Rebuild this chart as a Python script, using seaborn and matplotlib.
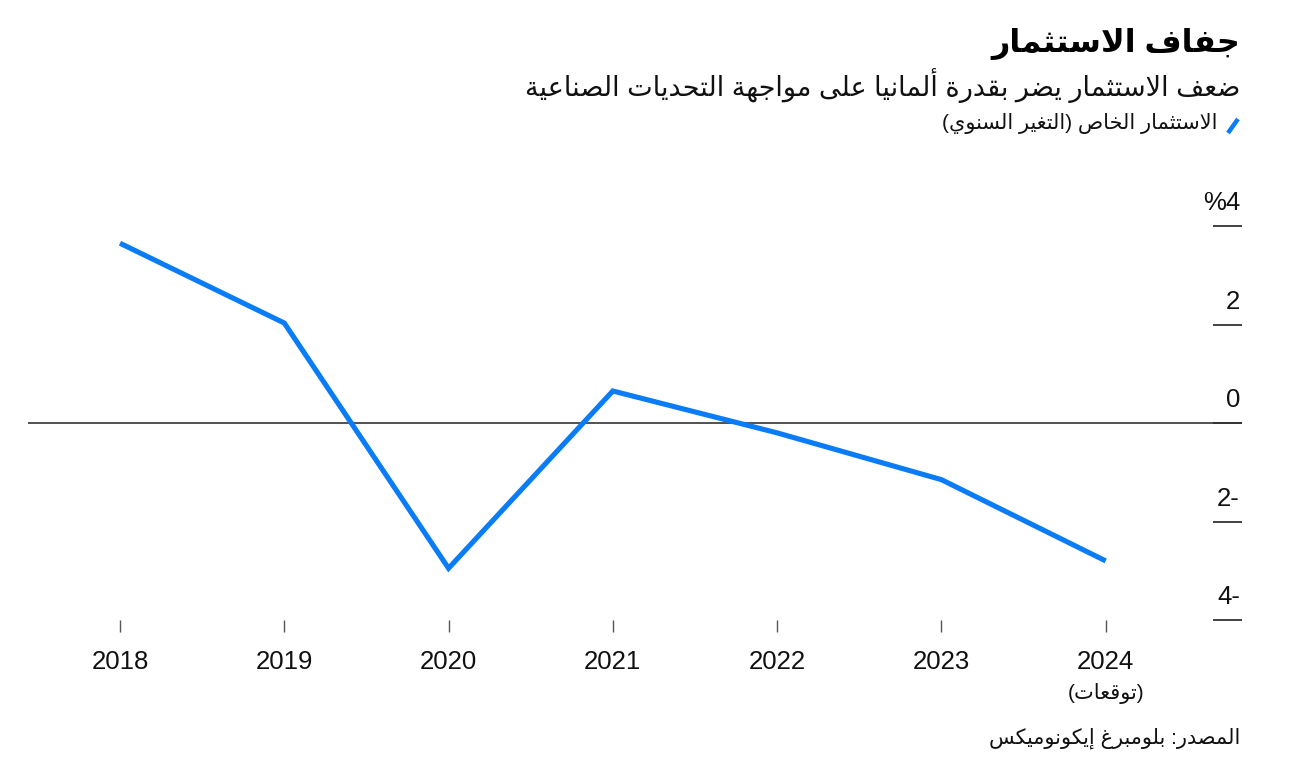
import matplotlib
matplotlib.use("Agg")
import matplotlib.pyplot as plt
import matplotlib.transforms as mtransforms
from matplotlib.lines import Line2D
import seaborn as sns
import pandas as pd

# ---------------- data ----------------
years = [2018, 2019, 2020, 2021, 2022, 2023, 2024]
private_investment = [3.65, 2.03, -2.95, 0.65, -0.2, -1.15, -2.8]
year_labels = ["2018", "2019", "2020", "2021", "2022", "2023", "2024"]
y_ticks = [-4, -2, 0, 2, 4]
y_tick_labels = ["4-", "2-", "0", "2", "%4"]

title = "جفاف الاستثمار"
subtitle = "ضعف الاستثمار يضر بقدرة ألمانيا على مواجهة التحديات الصناعية"
legend_label = "الاستثمار الخاص (التغير السنوي)"
forecast_note = "(توقعات)"
source = "المصدر: بلومبرغ إيكونوميكس"

# ---------------- minimal Arabic shaping (presentation forms + RTL) ----------------
_LETTERS = [('ء', 0xFE80, 1), ('آ', 0xFE81, 2), ('أ', 0xFE83, 2), ('ؤ', 0xFE85, 2),
            ('إ', 0xFE87, 2), ('ئ', 0xFE89, 4), ('ا', 0xFE8D, 2), ('ب', 0xFE8F, 4),
            ('ة', 0xFE93, 2), ('ت', 0xFE95, 4), ('ث', 0xFE99, 4), ('ج', 0xFE9D, 4),
            ('ح', 0xFEA1, 4), ('خ', 0xFEA5, 4), ('د', 0xFEA9, 2), ('ذ', 0xFEAB, 2),
            ('ر', 0xFEAD, 2), ('ز', 0xFEAF, 2), ('س', 0xFEB1, 4), ('ش', 0xFEB5, 4),
            ('ص', 0xFEB9, 4), ('ض', 0xFEBD, 4), ('ط', 0xFEC1, 4), ('ظ', 0xFEC5, 4),
            ('ع', 0xFEC9, 4), ('غ', 0xFECD, 4), ('ف', 0xFED1, 4), ('ق', 0xFED5, 4),
            ('ك', 0xFED9, 4), ('ل', 0xFEDD, 4), ('م', 0xFEE1, 4), ('ن', 0xFEE5, 4),
            ('ه', 0xFEE9, 4), ('و', 0xFEED, 2), ('ى', 0xFEEF, 2), ('ي', 0xFEF1, 4)]
_TABLE = {c: (b, n) for c, b, n in _LETTERS}
_LAMALEF = {'آ': 0xFEF5, 'أ': 0xFEF7, 'إ': 0xFEF9, 'ا': 0xFEFB}
_MIRROR = {'(': ')', ')': '(', '[': ']', ']': '['}


def ar(text):
    out = []
    i = 0
    n = len(text)
    while i < n:
        c = text[i]
        if c not in _TABLE:
            out.append(c)
            i += 1
            continue
        prev_join = i > 0 and text[i - 1] in _TABLE and _TABLE[text[i - 1]][1] == 4
        if c == 'ل' and i + 1 < n and text[i + 1] in _LAMALEF:
            out.append(chr(_LAMALEF[text[i + 1]] + (1 if prev_join else 0)))
            i += 2
            continue
        base, forms = _TABLE[c]
        next_join = forms == 4 and i + 1 < n and text[i + 1] in _TABLE and _TABLE[text[i + 1]][1] >= 2
        if forms == 1:
            code = base
        elif prev_join and next_join:
            code = base + 3
        elif prev_join:
            code = base + 1
        elif next_join:
            code = base + 2
        else:
            code = base
        out.append(chr(code))
        i += 1
    return "".join(_MIRROR.get(ch, ch) for ch in reversed(out))


# ---------------- figure ----------------
sns.set_style("white")
plt.rcParams["font.family"] = ["Liberation Sans", "DejaVu Sans"]

W, H = 1296, 770
fig = plt.figure(figsize=(W / 100, H / 100), dpi=100)
fig.patch.set_facecolor("white")

left_px, right_px, top_px, bottom_px = 28, 1242, 226, 620
ax = fig.add_axes([left_px / W, 1 - bottom_px / H, (right_px - left_px) / W, (bottom_px - top_px) / H])

df = pd.DataFrame({"year": years, "value": private_investment})
sns.lineplot(data=df, x="year", y="value", ax=ax, color="#0a7cf6", linewidth=3.7,
             solid_capstyle="butt", solid_joinstyle="miter")

ax.axhline(0, color="#333333", linewidth=1.2, zorder=1)

ax.set_xlim(2017.44, 2024.83)
ax.set_ylim(-4, 4)
for sp in ax.spines.values():
    sp.set_visible(False)
ax.set_xlabel("")
ax.set_ylabel("")

ax.set_xticks(years)
ax.set_xticklabels(year_labels, fontsize=18.5, color="#111111")
ax.tick_params(axis="x", which="major", bottom=True, direction="out", length=8.5, width=1.0,
               color="#555555", pad=13)

ax.yaxis.tick_right()
ax.set_yticks(y_ticks)
ax.set_yticklabels([])
ax.tick_params(axis="y", which="major", right=True, left=False, direction="in", length=21,
               width=1.3, color="#333333", labelright=False)

ytrans = mtransforms.blended_transform_factory(ax.transAxes, ax.transData)
off = mtransforms.offset_copy(ytrans, fig=fig, x=-2, y=11, units="dots")
for v, lab in zip(y_ticks, y_tick_labels):
    ax.text(1.0, v, lab, transform=off, ha="right", va="bottom", fontsize=18.5, color="#111111")

xtrans = mtransforms.blended_transform_factory(ax.transData, ax.transAxes)
ax.text(years[-1], -0.16, ar(forecast_note), transform=xtrans, ha="center", va="top",
        fontsize=15, color="#111111")

# ---------------- titles ----------------
rx = 1240 / W
fig.text(rx, 1 - 28 / H, ar(title), ha="right", va="top", fontsize=23, fontweight="bold", color="#000000")
fig.text(rx, 1 - 68 / H, ar(subtitle), ha="right", va="top", fontsize=19.5, color="#111111")
fig.text(1218 / W, 1 - 113 / H, ar(legend_label), ha="right", va="top", fontsize=15, color="#111111")
fig.add_artist(Line2D([1228 / W, 1238 / W], [1 - 133 / H, 1 - 119 / H], transform=fig.transFigure,
                      color="#0a7cf6", linewidth=3.2, solid_capstyle="butt"))
fig.text(rx, 1 - 728 / H, ar(source), ha="right", va="top", fontsize=15, color="#111111")

fig.savefig("out.png", dpi=100, facecolor="white")
